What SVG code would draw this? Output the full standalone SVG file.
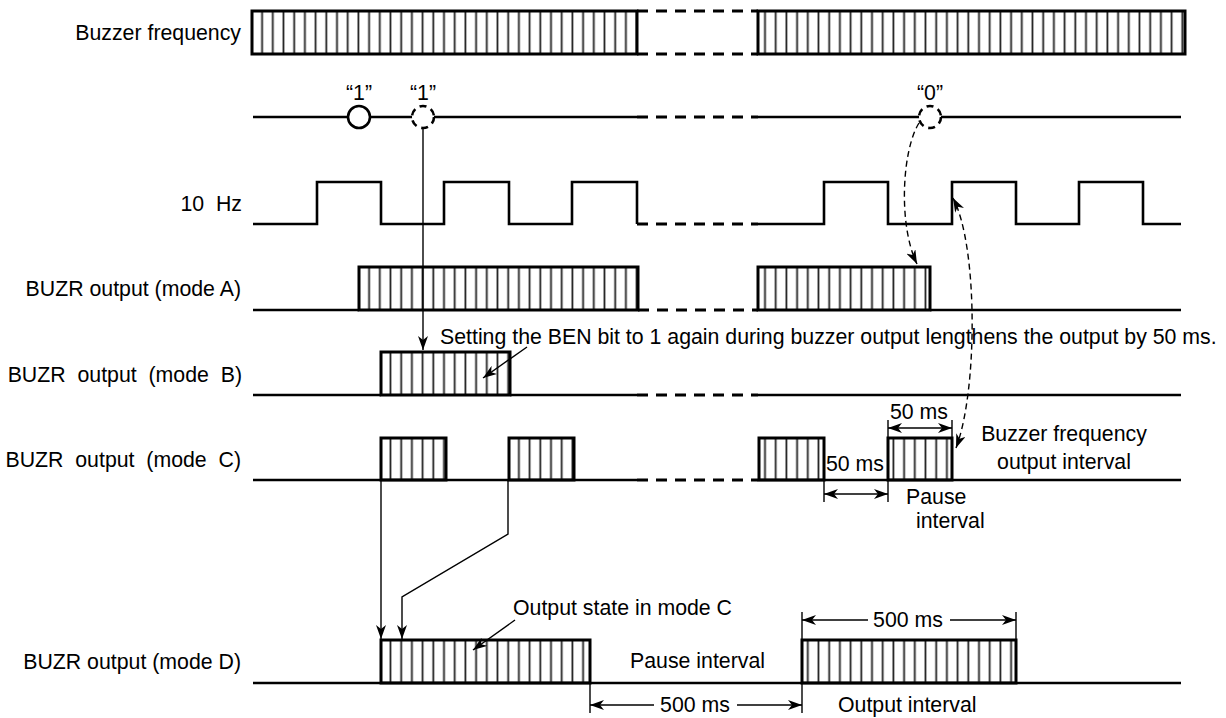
<svg xmlns="http://www.w3.org/2000/svg" width="1226" height="718" viewBox="0 0 1226 718">
<style>
text{font-family:"Liberation Sans",Arial,sans-serif;font-size:21.3px;fill:#000;white-space:pre}
.lbl{text-anchor:end}
.mid{text-anchor:middle}
.sig{fill:none;stroke:#000;stroke-width:2.6}
.brk{fill:none;stroke:#000;stroke-width:3;stroke-dasharray:11 8}
.box{fill:url(#st);stroke:#000;stroke-width:3}
.con{fill:none;stroke:#000;stroke-width:1.4}
.dcon{fill:none;stroke:#000;stroke-width:1.4;stroke-dasharray:6 4}
.circ{fill:#fff;stroke:#000;stroke-width:2.6}
.dcirc{fill:#fff;stroke:#000;stroke-width:2.6;stroke-dasharray:7 5}
</style>
<defs>
<pattern id="st" patternUnits="userSpaceOnUse" width="10.7" height="60">
<line x1="5.3" y1="0" x2="5.3" y2="60" stroke="#222" stroke-width="1.8"/>
</pattern>
<marker id="ah" markerUnits="userSpaceOnUse" viewBox="0 0 14 10" refX="14" refY="5" markerWidth="14" markerHeight="10" orient="auto-start-reverse">
<path d="M0,0 L14,5 L0,10 L4,5 z" fill="#000"/>
</marker>
</defs>

<g id="buzzer-frequency">
<text class="lbl" x="241" y="40">Buzzer frequency</text>
<rect class="box" x="252" y="11" width="385" height="43"/>
<path class="brk" d="M637,11 H758 M637,54 H758"/>
<rect class="box" x="758" y="11" width="427" height="43"/>
</g>

<g id="ben-bit">
<path class="sig" d="M253,117 H637 M758,117 H1181"/>
<path class="brk" d="M637,117 H758"/>
<circle class="circ" cx="359" cy="117" r="11"/>
<circle class="dcirc" cx="423" cy="117" r="11"/>
<circle class="dcirc" cx="930" cy="117" r="11"/>
<text class="mid" x="359" y="100">“1”</text>
<text class="mid" x="423" y="100">“1”</text>
<text class="mid" x="930" y="100">“0”</text>
</g>

<g id="clock-10hz">
<text class="lbl" x="242" y="211">10  Hz</text>
<path class="sig" d="M253,224 H317 V182 H381 V224 H444 V182 H509 V224 H572 V182 H637 V224"/>
<path class="brk" d="M637,224 H758"/>
<path class="sig" d="M758,224 H824 V182 H888 V224 H952 V182 H1016 V224 H1079 V182 H1143 V224 H1181"/>
</g>

<g id="mode-a">
<text class="lbl" x="241" y="296">BUZR output (mode A)</text>
<path class="sig" d="M253,310 H359 M930,310 H1181"/>
<path class="brk" d="M638,310 H758"/>
<rect class="box" x="359" y="267" width="279" height="43"/>
<rect class="box" x="758" y="267" width="172" height="43"/>
</g>

<g id="mode-b">
<text class="lbl" x="242" y="382">BUZR  output  (mode  B)</text>
<path class="sig" d="M253,395 H381 M510,395 H637 M758,395 H1181"/>
<path class="brk" d="M637,395 H758"/>
<rect class="box" x="381" y="352" width="129" height="43"/>
</g>

<g id="mode-c">
<text class="lbl" x="241" y="467">BUZR  output  (mode  C)</text>
<path class="sig" d="M253,480 H637 M758,480 H1181"/>
<path class="brk" d="M637,480 H758"/>
<rect class="box" x="381" y="438" width="65" height="42"/>
<rect class="box" x="509" y="438" width="65" height="42"/>
<rect class="box" x="759" y="438" width="65" height="42"/>
<rect class="box" x="888" y="438" width="64" height="42"/>
</g>

<g id="mode-d">
<text class="lbl" x="241" y="669">BUZR output (mode D)</text>
<path class="sig" d="M253,683 H1181"/>
<rect class="box" x="381" y="640" width="209" height="43"/>
<rect class="box" x="802" y="640" width="214" height="43"/>
</g>

<g id="annotations">
<text x="440" y="344">Setting the BEN bit to 1 again during buzzer output lengthens the output by 50 ms.</text>
<text class="mid" x="919" y="419">50 ms</text>
<text class="mid" x="855" y="471">50 ms</text>
<text class="mid" x="1064" y="441">Buzzer frequency</text>
<text class="mid" x="1064" y="469">output interval</text>
<text x="906" y="504">Pause</text>
<text x="916" y="528">interval</text>
<text x="513" y="615">Output state in mode C</text>
<text x="630" y="668">Pause interval</text>
<text class="mid" x="908" y="627">500 ms</text>
<text class="mid" x="695" y="712">500 ms</text>
<text x="838" y="712">Output interval</text>
</g>

<g id="connectors">
<path class="con" d="M423,128 V350" marker-end="url(#ah)"/>
<path class="con" d="M527,347 L483,378" marker-end="url(#ah)"/>
<path class="con" d="M381,480 V639" marker-end="url(#ah)"/>
<path class="con" d="M508,480 V534 L402,597 V639" marker-end="url(#ah)"/>
<path class="con" d="M515,620 L473,650" marker-end="url(#ah)"/>
<path class="dcon" d="M919,123 C902,150 898,225 917,264" marker-end="url(#ah)"/>
<path class="dcon" d="M956,448 C978,390 978,245 953,198" marker-start="url(#ah)" marker-end="url(#ah)"/>
<path class="con" d="M888,420 V438 M952,420 V438"/>
<path class="con" d="M888,428 H952" marker-start="url(#ah)" marker-end="url(#ah)"/>
<path class="con" d="M824,480 V502 M888,480 V502"/>
<path class="con" d="M824,494 H888" marker-start="url(#ah)" marker-end="url(#ah)"/>
<path class="con" d="M802,612 V640 M1016,612 V640"/>
<path class="con" d="M868,620 H802" marker-end="url(#ah)"/>
<path class="con" d="M950,620 H1016" marker-end="url(#ah)"/>
<path class="con" d="M590,683 V713 M802,683 V713"/>
<path class="con" d="M654,705 H590" marker-end="url(#ah)"/>
<path class="con" d="M737,705 H802" marker-end="url(#ah)"/>
</g>
</svg>
